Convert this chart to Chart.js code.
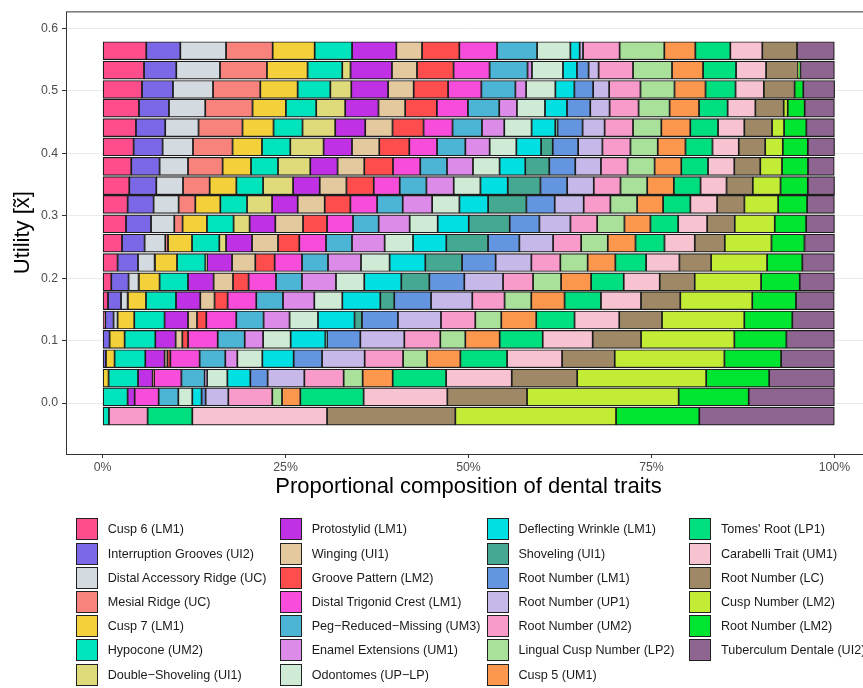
<!DOCTYPE html>
<html>
<head>
<meta charset="utf-8">
<script src="https://cdn.jsdelivr.net/npm/chart.js@4.4.1/dist/chart.umd.min.js"></script>
<style>
  html, body { margin: 0; padding: 0; background: #fff; width: 863px; height: 688px; overflow: hidden; }
  #wrap { position: relative; width: 863px; height: 688px; overflow: hidden; }
  #chart { position: absolute; left: 0; top: 0; }
  #legend { position: absolute; left: 0; top: 0; width: 863px; height: 688px;
            font-family: "Liberation Sans", Arial, sans-serif; font-size: 12.6px; color: #1a1a1a; }
  .item { position: absolute; height: 22px; display: flex; align-items: center; white-space: nowrap; }
  .key { box-sizing: border-box; width: 22px; height: 22px; border: 1.5px solid #222; margin-right: 9.7px; flex: none; }
</style>
</head>
<body>
<div id="wrap">
  <canvas id="chart" width="871" height="688"></canvas>
  <div id="legend"></div>
</div>
<script>
// Utility level of each bar (top to bottom)
const utility = [0.564, 0.533, 0.502, 0.472, 0.441, 0.410, 0.379, 0.348, 0.318, 0.287,
                 0.256, 0.225, 0.194, 0.164, 0.133, 0.102, 0.071, 0.040, 0.010, -0.021];

// Share (%) of each dental trait at each utility level
const cusp6LM1            = [5.97, 5.66, 5.38, 4.97, 4.56, 4.24, 3.92, 3.65, 3.42, 3.20, 2.65, 2.05, 1.19, 0.74, 0.37, 0, 0, 0, 0, 0];
const interruptionUI2     = [4.65, 4.41, 4.24, 4.10, 4.00, 3.96, 3.87, 3.69, 3.55, 3.42, 3.09, 2.79, 2.36, 1.78, 1.13, 0.96, 0.46, 0, 0, 0];
const distalAccessoryUC   = [6.25, 5.97, 5.47, 4.96, 4.55, 4.15, 3.88, 3.65, 3.42, 3.18, 2.83, 2.27, 1.37, 0.90, 0.55, 0, 0, 0, 0, 0];
const mesialRidgeUC       = [6.37, 6.42, 6.46, 6.46, 6.01, 5.41, 4.73, 3.64, 2.28, 1.13, 0.37, 0.05, 0.04, 0.04, 0, 0, 0, 0, 0, 0];
const cusp7LM1            = [5.74, 5.55, 5.10, 4.56, 4.24, 4.02, 3.88, 3.65, 3.42, 3.33, 3.28, 3.01, 2.83, 2.47, 2.28, 2.05, 1.18, 0.82, 0, 0];
const hypoconeUM2         = [5.11, 4.74, 4.47, 4.14, 3.96, 3.87, 3.69, 3.65, 3.65, 3.64, 3.73, 3.87, 3.88, 4.10, 4.14, 4.20, 4.20, 4.02, 3.42, 0.87];
const doubleShovelingUI1  = [0, 1.13, 2.87, 3.96, 4.47, 4.55, 4.41, 4.10, 3.42, 2.19, 0.92, 0.23, 0, 0, 0, 0, 0, 0, 0, 0];
const protostylidLM1      = [6.05, 5.66, 5.02, 4.55, 4.10, 3.88, 3.73, 3.64, 3.50, 3.51, 3.55, 3.42, 3.50, 3.32, 3.20, 2.77, 2.64, 2.00, 0.96, 0];
const wingingUI1          = [3.51, 3.42, 3.50, 3.65, 3.73, 3.73, 3.65, 3.65, 3.69, 3.79, 3.55, 3.18, 2.65, 1.95, 1.23, 0.92, 0.37, 0.10, 0, 0];
const groovePatternLM2    = [5.10, 5.00, 4.70, 4.33, 4.24, 4.10, 3.92, 3.73, 3.51, 3.28, 2.91, 2.64, 2.13, 1.78, 1.27, 0.78, 0.41, 0.10, 0, 0];
const distalTrigonidLM1   = [5.15, 4.92, 4.55, 4.24, 3.96, 3.79, 3.73, 3.55, 3.65, 3.55, 3.65, 3.74, 3.74, 3.92, 4.10, 4.05, 4.00, 3.73, 3.28, 0];
const pegReducedUM3       = [5.47, 5.19, 4.65, 4.28, 4.02, 3.87, 3.65, 3.65, 3.50, 3.50, 3.55, 3.55, 3.55, 3.65, 3.73, 3.69, 3.51, 3.18, 2.69, 0];
const enamelExtUM1        = [0, 0.60, 1.46, 2.42, 3.05, 3.32, 3.55, 3.73, 4.02, 4.24, 4.46, 4.51, 4.65, 4.28, 3.55, 2.51, 1.64, 0.33, 0, 0];
const odontomesUPLP       = [4.55, 4.24, 4.00, 3.83, 3.73, 3.65, 3.64, 3.65, 3.73, 3.83, 3.88, 3.91, 3.87, 3.83, 3.88, 3.77, 3.42, 2.77, 1.91, 0];
const deflectingLM1       = [1.27, 1.91, 2.60, 3.01, 3.24, 3.38, 3.51, 3.73, 3.92, 4.24, 4.55, 4.88, 5.06, 5.19, 5.00, 4.74, 4.28, 3.14, 1.27, 0];
const shovelingUI1        = [0, 0, 0, 0, 0.31, 1.59, 3.28, 4.47, 5.23, 5.60, 5.70, 5.02, 3.83, 1.91, 1.01, 0.23, 0, 0, 0, 0];
const rootNumberLM1       = [0, 1.59, 2.56, 3.18, 3.42, 3.47, 3.55, 3.65, 3.87, 4.06, 4.28, 4.59, 4.78, 5.02, 4.92, 4.55, 3.88, 2.36, 0.55, 0];
const rootNumberUP1       = [0.46, 1.37, 2.19, 2.64, 3.01, 3.32, 3.51, 3.64, 3.96, 4.24, 4.61, 4.88, 5.29, 5.64, 5.88, 6.01, 5.82, 5.02, 3.10, 0];
const rootNumberUM2       = [5.00, 4.70, 4.28, 3.96, 3.88, 3.83, 3.64, 3.65, 3.65, 3.65, 3.83, 3.96, 4.10, 4.41, 4.69, 4.92, 5.25, 5.37, 6.01, 5.28];
const lingualCuspLP2      = [6.11, 5.33, 4.65, 4.24, 3.87, 3.73, 3.69, 3.65, 3.65, 3.73, 3.64, 3.73, 3.83, 3.65, 3.55, 3.42, 3.28, 2.60, 1.33, 0];
const cusp5UM1            = [4.24, 4.24, 4.24, 4.02, 3.96, 3.79, 3.65, 3.64, 3.55, 3.55, 3.79, 3.79, 4.10, 4.55, 4.78, 4.69, 4.55, 4.10, 2.50, 0];
const tomesRootLP1        = [4.78, 4.51, 4.10, 3.91, 3.79, 3.69, 3.65, 3.65, 3.73, 3.79, 3.96, 4.20, 4.46, 4.97, 5.23, 5.88, 6.38, 7.30, 8.65, 6.11];
const carabelliUM1        = [4.37, 4.10, 3.87, 3.79, 3.59, 3.59, 3.59, 3.55, 3.65, 3.96, 4.14, 4.55, 4.92, 5.47, 6.11, 6.83, 7.52, 8.97, 11.44, 18.41];
const rootNumberLC        = [4.74, 4.37, 4.20, 3.87, 3.79, 3.61, 3.55, 3.59, 3.73, 3.77, 4.10, 4.33, 4.78, 5.37, 5.84, 6.61, 7.19, 8.94, 10.89, 17.53];
const cuspNumberLM2       = [0, 0.11, 0, 0.55, 1.64, 2.41, 2.97, 3.79, 4.61, 5.47, 6.38, 7.65, 9.07, 9.84, 11.25, 12.75, 14.99, 17.63, 20.72, 21.96];
const rootNumberLM2       = [0, 0.21, 1.19, 2.32, 3.05, 3.42, 3.55, 3.73, 3.96, 4.29, 4.51, 4.82, 5.28, 5.97, 6.56, 7.11, 7.75, 8.61, 9.57, 11.38];
const tuberculumUI2       = [5.10, 4.65, 4.28, 4.06, 3.83, 3.65, 3.59, 3.65, 3.73, 3.87, 4.10, 4.37, 4.74, 5.23, 5.74, 6.56, 7.28, 8.92, 11.71, 18.45];

const traitNames = [
  'Cusp 6 (LM1)', 'Interruption Grooves (UI2)', 'Distal Accessory Ridge (UC)', 'Mesial Ridge (UC)',
  'Cusp 7 (LM1)', 'Hypocone (UM2)', 'Double\u2212Shoveling (UI1)',
  'Protostylid (LM1)', 'Winging (UI1)', 'Groove Pattern (LM2)', 'Distal Trigonid Crest (LM1)',
  'Peg\u2212Reduced\u2212Missing (UM3)', 'Enamel Extensions (UM1)', 'Odontomes (UP\u2212LP)',
  'Deflecting Wrinkle (LM1)', 'Shoveling (UI1)', 'Root Number (LM1)', 'Root Number (UP1)',
  'Root Number (UM2)', 'Lingual Cusp Number (LP2)', 'Cusp 5 (UM1)',
  "Tomes' Root (LP1)", 'Carabelli Trait (UM1)', 'Root Number (LC)', 'Cusp Number (LM2)',
  'Root Number (LM2)', 'Tuberculum Dentale (UI2)'
];
const traitSeries = [
  cusp6LM1, interruptionUI2, distalAccessoryUC, mesialRidgeUC, cusp7LM1, hypoconeUM2, doubleShovelingUI1,
  protostylidLM1, wingingUI1, groovePatternLM2, distalTrigonidLM1, pegReducedUM3, enamelExtUM1, odontomesUPLP,
  deflectingLM1, shovelingUI1, rootNumberLM1, rootNumberUP1, rootNumberUM2, lingualCuspLP2, cusp5UM1,
  tomesRootLP1, carabelliUM1, rootNumberLC, cuspNumberLM2, rootNumberLM2, tuberculumUI2
];
const traitColors = [
  '#FF4C8C', '#7B68E6', '#D3DAE0', '#F7837C', '#F4D03A', '#00E4BE', '#DFDA7A',
  '#C030E5', '#E5C99E', '#FF4D4D', '#F84CDA', '#4CB4D4', '#DC8CE8', '#CFEBD6',
  '#00DFE2', '#44A990', '#6495E1', '#C6B8E8', '#F89BCB', '#A9E19A', '#FC974D',
  '#00DF7F', '#F7C3D1', '#9F8866', '#C2EC36', '#00E52F', '#8E6590'
];

const xTickValues = [0, 25, 50, 75, 100];
const yTickValues = [0.0, 0.1, 0.2, 0.3, 0.4, 0.5, 0.6];

const FONT = '"Liberation Sans", Arial, sans-serif';

const datasets = traitNames.map((name, i) => ({
  label: name,
  data: traitSeries[i].map((v, r) => ({ x: v, y: utility[r] })),
  backgroundColor: traitColors[i],
  borderColor: '#1c1c1c',
  borderWidth: 1.2,
  borderSkipped: false,
  barThickness: 18,
}));

// Outline of the plotting panel
const panelFrame = {
  id: 'panelFrame',
  afterDraw(chart) {
    const { ctx, chartArea: a } = chart;
    ctx.save();
    ctx.strokeStyle = '#333333';
    ctx.lineWidth = 1;
    ctx.strokeRect(a.left + 0.5, a.top + 0.5, a.right - a.left, a.bottom - a.top);
    ctx.restore();
  }
};

new Chart(document.getElementById('chart'), {
  type: 'bar',
  data: { datasets },
  plugins: [panelFrame],
  options: {
    indexAxis: 'y',
    responsive: false,
    animation: false,
    layout: { padding: { top: 8, left: 0, right: 0, bottom: 0 } },
    plugins: { legend: { display: false }, tooltip: { enabled: false } },
    scales: {
      x: {
        type: 'linear',
        stacked: true,
        offset: false,
        min: -5,
        max: 105,
        afterBuildTicks: (scale) => { scale.ticks = xTickValues.map(v => ({ value: v })); },
        afterFit: (scale) => { scale.height = 234; },
        border: { display: false },
        grid: { offset: false, color: 'rgba(0,0,0,0)', drawTicks: true, tickLength: 4, tickColor: '#333333', tickWidth: 1 },
        ticks: {
          callback: (v) => v + '%',
          color: '#4D4D4D',
          font: { family: FONT, size: 12.3 },
          padding: 2,
          maxRotation: 0,
          autoSkip: false,
        },
        title: {
          display: true,
          text: 'Proportional composition of dental traits',
          color: '#000000',
          font: { family: FONT, size: 22 },
          padding: { top: 0, bottom: 188 },
        },
      },
      y: {
        type: 'linear',
        stacked: true,
        offset: false,
        min: -0.0815,
        max: 0.627,
        afterBuildTicks: (scale) => { scale.ticks = yTickValues.map(v => ({ value: v })); },
        afterFit: (scale) => { scale.width = 66; },
        border: { display: false },
        grid: { offset: false, color: '#EBEBEB', lineWidth: 1, drawTicks: true, tickLength: 4, tickColor: '#333333', tickWidth: 1 },
        ticks: {
          callback: (v) => Number(v).toFixed(1),
          color: '#4D4D4D',
          font: { family: FONT, size: 12.3 },
          padding: 4,
          autoSkip: false,
        },
        title: {
          display: true,
          text: 'Utility [x\u0303]',
          color: '#000000',
          font: { family: FONT, size: 22 },
          padding: { top: 10, bottom: 0 },
        },
      },
    },
  },
});

// Legend: four columns, filled top to bottom
const legendCols = [76, 280, 486.7, 689.3];
const legendTop = 518.3;
const legendStep = 24.2;
const legendEl = document.getElementById('legend');
traitNames.forEach((name, i) => {
  const col = Math.floor(i / 7), row = i % 7;
  const item = document.createElement('div');
  item.className = 'item';
  item.style.left = legendCols[col] + 'px';
  item.style.top = (legendTop + row * legendStep) + 'px';
  const key = document.createElement('span');
  key.className = 'key';
  key.style.background = traitColors[i];
  const label = document.createElement('span');
  label.textContent = name;
  item.appendChild(key);
  item.appendChild(label);
  legendEl.appendChild(item);
});
</script>
</body>
</html>
